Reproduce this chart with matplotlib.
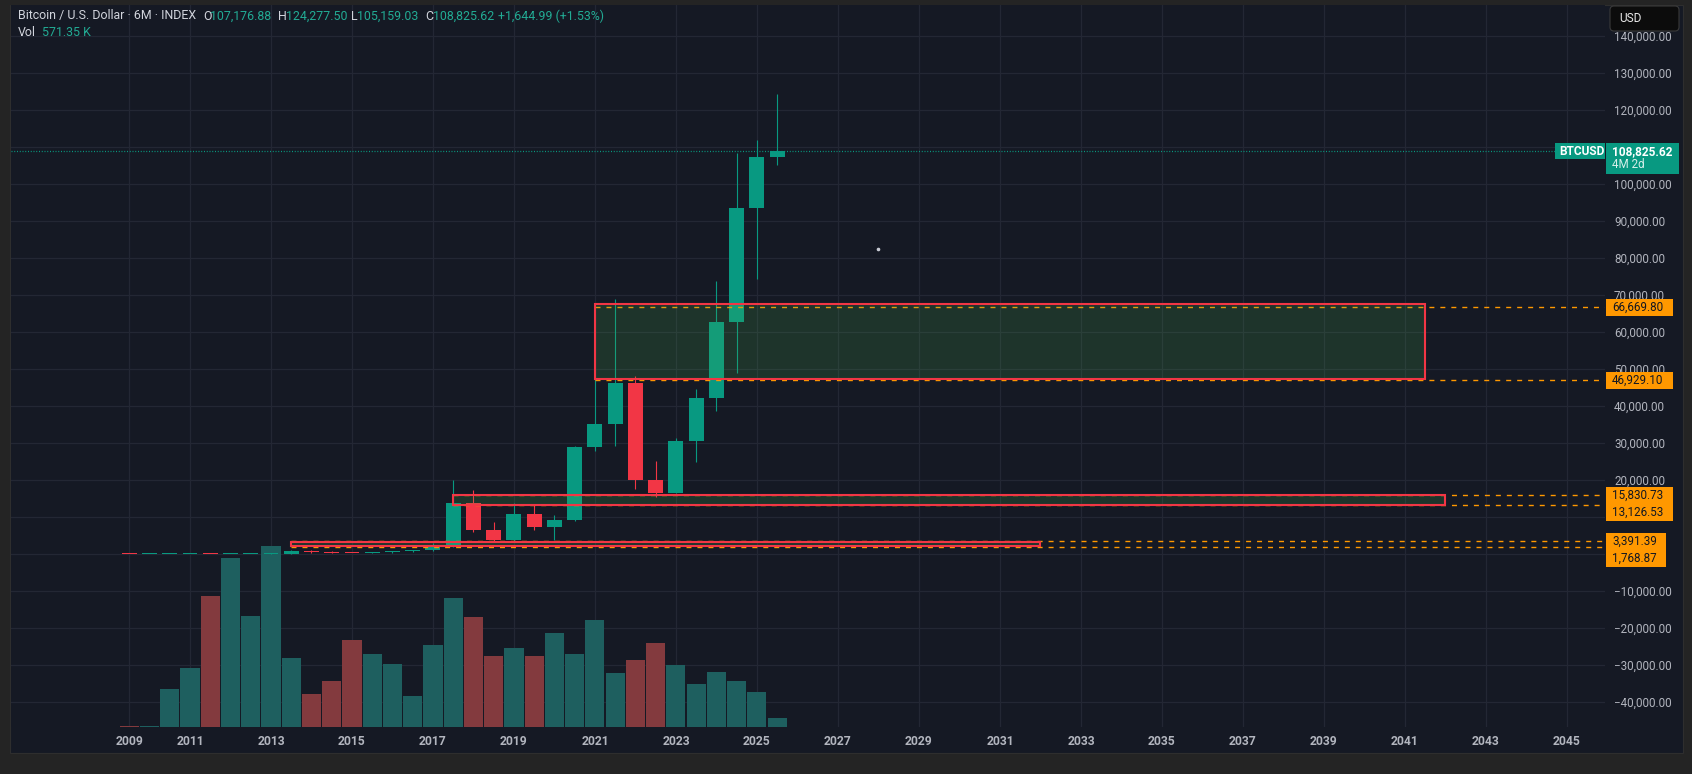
import numpy as np
import matplotlib
matplotlib.use("Agg")
import matplotlib.pyplot as plt
from matplotlib.patches import Rectangle, FancyBboxPatch
from matplotlib.transforms import IdentityTransform

plt.rcParams['font.family'] = ['Roboto', 'DejaVu Sans']

# 6M candles, BTC / USD index
periods = ['2009-07', '2010-01', '2010-07', '2011-01', '2011-07', '2012-01', '2012-07',
           '2013-01', '2013-07', '2014-01', '2014-07', '2015-01', '2015-07', '2016-01',
           '2016-07', '2017-01', '2017-07', '2018-01', '2018-07', '2019-01', '2019-07',
           '2020-01', '2020-07', '2021-01', '2021-07', '2022-01', '2022-07', '2023-01',
           '2023-07', '2024-01', '2024-07', '2025-01', '2025-07']
opens = [0.06, 0.05, 0.07, 0.30, 16.1, 4.7, 6.7, 13.5, 97, 757, 640, 320, 264, 430, 673,
         963, 2480, 13880, 6390, 3740, 10820, 7200, 9140, 28990, 35040, 46200, 19930,
         16540, 30480, 42260, 62700, 93400, 107176.88]
highs = [0.10, 0.10, 0.50, 31.9, 17.5, 7.2, 16.4, 266, 1163, 1000, 665, 320, 502, 780, 980,
         3000, 19870, 17250, 8500, 13880, 13200, 10500, 29300, 64850, 69000, 48190, 25200,
         31400, 44700, 73800, 108300, 112000, 124277.50]
lows = [0.05, 0.05, 0.05, 0.29, 2.0, 4.2, 6.5, 13.0, 65, 340, 275, 152, 200, 350, 470,
        890, 1830, 5900, 3130, 3350, 6430, 3850, 8900, 27730, 29280, 17600, 15500,
        16500, 24900, 38500, 49000, 74400, 105159.03]
closes = [0.05, 0.07, 0.30, 16.1, 4.7, 6.7, 13.5, 97, 757, 640, 320, 264, 430, 673, 963,
          2480, 13880, 6390, 3740, 10820, 7200, 9140, 28990, 35040, 46200, 19930, 16540,
          30480, 42260, 62700, 93400, 107176.88, 108825.62]
# volume, thousands
volumes = [60, 60, 2413, 3747, 8319, 10732, 7049, 11494, 4382, 2096, 2921, 5525, 4636,
           4001, 1969, 5207, 8192, 6985, 4509, 5017, 4509, 5969, 4636, 6795, 3429, 4255,
           5334, 3937, 2731, 3493, 2921, 2223, 571.35]

# drawn zones (rectangles) and their price levels
box_left = ['2021-01', '2017-07', '2013-07']
box_right = ['2041-07', '2042-01', '2032-01']
box_top = [67600, 15900, 3250]
box_bottom = [47350, 13200, 2150]
levels = [66669.80, 46929.10, 15830.73, 13126.53, 3391.39, 1768.87]
level_start = ['2021-01', '2021-01', '2017-07', '2017-07', '2013-07', '2013-07']
level_labels = ['66,669.80', '46,929.10', '15,830.73', '13,126.53', '3,391.39', '1,768.87']
level_shift = [0, 0, 0, 7, 0, 11]

last_price = 108825.62
year_ticks = ['2009'] + [str(y) for y in range(2011, 2046, 2)]
price_ticks = np.arange(-40000, 140001, 10000)
hidden_ticks = [0, 10000]   # covered by the level badges

BG = '#151924'
GRID = '#232734'
TEAL = '#089981'
RED = '#f23645'
ORANGE = '#ff9800'
TXT = '#b2b5be'


def to_year(s):
    y, m = s.split('-')
    return int(y) + (int(m) - 1) / 12.0


x = np.array([to_year(p) for p in periods])
o = np.array(opens)
h = np.array(highs)
l = np.array(lows)
c = np.array(closes)
up = c >= o
cols = np.where(up, TEAL, RED)
vcols = np.where(up, '#1e5f5f', '#833a3e')

W, H = 1692, 774
fig = plt.figure(figsize=(W / 100, H / 100), dpi=100, facecolor='#242424')
fig.add_artist(Rectangle((10, H - 753), 1673, 748, transform=IdentityTransform(),
                         fc=BG, ec='#2e2e2e', lw=0.8, zorder=-1))

rect = [11 / W, (H - 727) / H, (1605 - 11) / W, (727 - 5) / H]
ax_bg = fig.add_axes(rect, zorder=0)
ax_vol = fig.add_axes(rect, sharex=ax_bg, zorder=1)
ax = fig.add_axes(rect, sharex=ax_bg, sharey=ax_bg, zorder=2)

ax_bg.set_facecolor(BG)
ax_vol.patch.set_visible(False)
ax.patch.set_visible(False)

ax.set_xlim(2006.58, 2045.94)
ax.set_ylim(-46800, 148400)

tick_pos = [x[0]] + [int(t) for t in year_ticks[1:]]
ax.set_xticks(tick_pos)
ax.set_xticklabels(year_ticks)
ax.set_yticks(price_ticks)
ax.set_yticklabels(['' if v in hidden_ticks else format(v, ',.2f').replace('-', '\u2212')
                    for v in price_ticks])

ax_bg.grid(True, color=GRID, lw=0.9)
ax_bg.tick_params(length=0, labelbottom=False, labelleft=False)
for a in (ax_bg, ax_vol, ax):
    for s in a.spines.values():
        s.set_visible(False)

ax.yaxis.tick_right()
ax.tick_params(axis='y', length=0, pad=6.5, labelsize=8.4, labelcolor=TXT)
ax.tick_params(axis='x', length=0, pad=6.0, labelsize=8.7, labelcolor=TXT)
for t in ax.get_xticklabels():
    t.set_fontweight('bold')

# volume
ax_vol.bar(x, volumes, width=0.47, color=vcols, zorder=1)
ax_vol.set_ylim(0, 45800)
ax_vol.tick_params(left=False, labelleft=False, bottom=False, labelbottom=False)

# candles
min_body = 270
body_bot = np.minimum(o, c)
body_h = np.maximum(np.abs(c - o), min_body)
ax.vlines(x, l, h, colors=cols, lw=0.8, zorder=2)
ax.bar(x, body_h, bottom=body_bot, width=0.37, color=cols, zorder=2)

xmax = ax.get_xlim()[1]
# level rays
for v, s in zip(levels, level_start):
    ax.hlines(v, to_year(s), xmax, colors=ORANGE, lw=1.0, linestyles=(0, (3.6, 4.3)), zorder=3)

# zones
for bl, br, bt, bb in zip(box_left, box_right, box_top, box_bottom):
    x0, x1 = to_year(bl), to_year(br)
    ax.add_patch(Rectangle((x0, bb), x1 - x0, bt - bb, fc=(0.298, 0.686, 0.314, 0.18),
                           ec='none', zorder=4))
    ax.add_patch(Rectangle((x0, bb), x1 - x0, bt - bb, fc='none', ec=RED, lw=1.5, zorder=5))

# last price line
ax.axhline(last_price, color=TEAL, lw=0.9, ls=(0, (0.8, 1.4)), zorder=3)
ax.plot([2028.0], [82365], 'o', ms=1.6, color='#c8cbd4', zorder=6)


def disp_y(v):
    return ax.transData.transform((ax.get_xlim()[0], v))[1]


ID = IdentityTransform()

for v, lab, sh in zip(levels, level_labels, level_shift):
    yc = disp_y(v) - sh
    wdt = 7.45 * len(lab)
    fig.add_artist(Rectangle((1606, yc - 8.5), wdt, 17, transform=ID, fc=ORANGE,
                             ec='none', zorder=5))
    fig.text(1612, yc, lab, transform=ID, color='#131722', fontsize=8.4,
             va='center', ha='left', zorder=6)

# last price badges
yc = disp_y(last_price)
fig.add_artist(Rectangle((1606, yc - 23), 73, 31, transform=ID, fc=TEAL, ec='none', zorder=5))
fig.text(1612, yc, '108,825.62', transform=ID, color='white', fontsize=8.6,
         fontweight='bold', va='center', ha='left', zorder=6)
fig.text(1612, yc - 13, '4M 2d', transform=ID, color='#d6efe9', fontsize=8.4,
         va='center', ha='left', zorder=6)
fig.add_artist(Rectangle((1555, yc - 8), 50, 16, transform=ID, fc=TEAL, ec='none', zorder=5))
fig.text(1559, yc, 'BTCUSD', transform=ID, color='white', fontsize=8.6,
         fontweight='bold', va='center', ha='left', zorder=6)

# currency button
fig.add_artist(FancyBboxPatch((1610, H - 31), 69, 25, boxstyle='round,pad=0,rounding_size=4',
                              transform=ID, fc='#0c0c0c', ec='#3a3a3a', lw=0.8, zorder=5))
fig.text(1619, H - 18, 'USD', transform=ID, color='#e8e8e8', fontsize=8.6,
         va='center', ha='left', zorder=6)

# legend header
GREY = '#d1d4dc'
TEXTG = '#22ab94'
hdr = [(18, 'Bitcoin / U.S. Dollar \u00b7 6M \u00b7 INDEX', GREY),
       (203, 'O', GREY), (210, '107,176.88', TEXTG),
       (278, 'H', GREY), (286, '124,277.50', TEXTG),
       (351, 'L', GREY), (357, '105,159.03', TEXTG),
       (425, 'C', GREY), (433, '108,825.62', TEXTG),
       (498, '+1,644.99 (+1.53%)', TEXTG)]
for px, s, col in hdr:
    fig.text(px, H - 16, s, transform=ID, color=col, fontsize=8.9, va='center', ha='left')
fig.text(18, H - 32, 'Vol', transform=ID, color=GREY, fontsize=8.9, va='center', ha='left')
fig.text(41.5, H - 32, '571.35 K', transform=ID, color=TEXTG, fontsize=8.9,
         va='center', ha='left')

fig.savefig('out.png', dpi=100, facecolor=fig.get_facecolor())
